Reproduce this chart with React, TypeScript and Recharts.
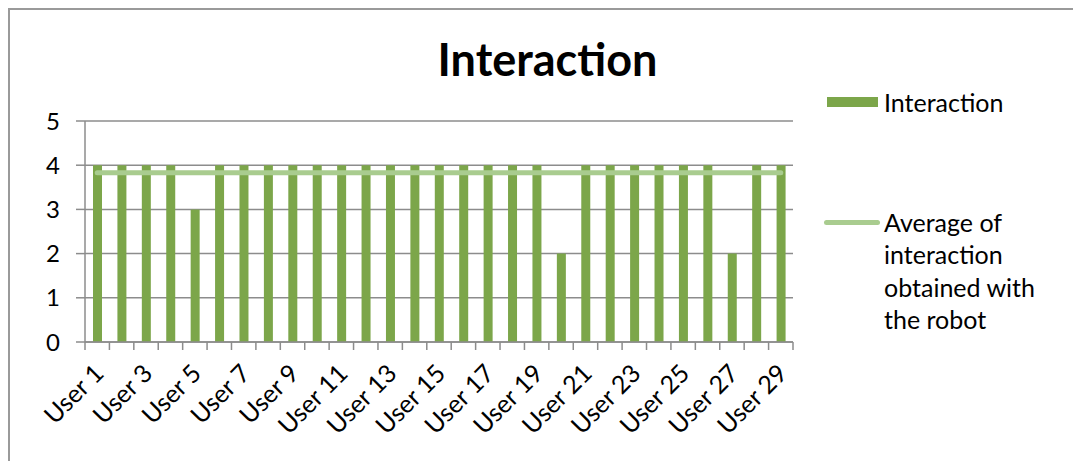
import React from "react";
import {
  ComposedChart,
  Bar,
  Line,
  XAxis,
  YAxis,
  CartesianGrid,
} from "recharts";

const users = [
  "User 1", "User 2", "User 3", "User 4", "User 5", "User 6", "User 7", "User 8",
  "User 9", "User 10", "User 11", "User 12", "User 13", "User 14", "User 15",
  "User 16", "User 17", "User 18", "User 19", "User 20", "User 21", "User 22",
  "User 23", "User 24", "User 25", "User 26", "User 27", "User 28", "User 29",
];

const interaction = [
  4, 4, 4, 4, 3, 4, 4, 4, 4, 4, 4, 4, 4, 4, 4,
  4, 4, 4, 4, 2, 4, 4, 4, 4, 4, 4, 2, 4, 4,
];

const average = [
  3.83, 3.83, 3.83, 3.83, 3.83, 3.83, 3.83, 3.83, 3.83, 3.83, 3.83, 3.83, 3.83, 3.83, 3.83,
  3.83, 3.83, 3.83, 3.83, 3.83, 3.83, 3.83, 3.83, 3.83, 3.83, 3.83, 3.83, 3.83, 3.83,
];

const yTicks = [0, 1, 2, 3, 4, 5];

const data = users.map((user, i) => ({
  user,
  interaction: interaction[i],
  average: average[i],
}));

const W = 1073;
const H = 461;
const PLOT_LEFT = 85;
const PLOT_RIGHT = 793;
const PLOT_TOP = 121;
const PLOT_BOTTOM = 342;
const BAND = (PLOT_RIGHT - PLOT_LEFT) / users.length;

const BAR = "#7CA64A";
const AVG = "#A9CC8F";
const AXIS = "#8C8C8C";
const FONT = "Lato, 'Open Sans', sans-serif";

const UserTick = (props: any) => {
  const { x, y, index, payload } = props;
  const left = x - BAND / 2;
  const ax = x + 8;
  const ay = y + 33;
  return (
    <g>
      <line x1={left} y1={y} x2={left} y2={y + 8} stroke={AXIS} strokeWidth={1.5} />
      {index === users.length - 1 && (
        <line x1={x + BAND / 2} y1={y} x2={x + BAND / 2} y2={y + 8} stroke={AXIS} strokeWidth={1.5} />
      )}
      {index % 2 === 0 && (
        <text
          x={ax}
          y={ay}
          transform={`rotate(-45, ${ax}, ${ay})`}
          textAnchor="end"
          fill="#000"
          fontSize={25}
          fontFamily={FONT}
        >
          {payload.value}
        </text>
      )}
    </g>
  );
};

const LegendBox = () => (
  <div
    style={{
      position: "absolute",
      left: 827,
      top: 86,
      width: 240,
      fontFamily: FONT,
      fontSize: 25,
      color: "#000",
      lineHeight: "32.5px",
    }}
  >
    <div style={{ display: "flex", alignItems: "center" }}>
      <span style={{ width: 51, height: 10, background: BAR, marginRight: 6, display: "inline-block" }} />
      <span>Interaction</span>
    </div>
    <div style={{ display: "flex", alignItems: "flex-start", marginTop: 87 }}>
      <span
        style={{
          width: 56,
          height: 5,
          borderRadius: 3,
          background: AVG,
          marginLeft: -3,
          marginRight: 4,
          marginTop: 14,
          display: "inline-block",
        }}
      />
      <span>
        Average of
        <br />
        interaction
        <br />
        obtained with
        <br />
        the robot
      </span>
    </div>
  </div>
);

export default function App() {
  return (
    <div
      style={{
        position: "absolute",
        left: 0,
        top: 0,
        width: W,
        height: H,
        background: "#fff",
        overflow: "hidden",
      }}
    >
      <div
        style={{
          position: "absolute",
          left: 8,
          top: 8,
          width: W,
          height: H,
          borderLeft: "2px solid #9a9a9a",
          borderTop: "2px solid #9a9a9a",
        }}
      />
      <div
        style={{
          position: "absolute",
          left: 0,
          width: 1095,
          top: 32,
          textAlign: "center",
          fontFamily: FONT,
          fontWeight: 700,
          fontSize: 45,
          color: "#000",
        }}
      >
        Interaction
      </div>
      <ComposedChart
        width={W}
        height={H}
        data={data}
        margin={{ top: PLOT_TOP, right: W - PLOT_RIGHT, bottom: 0, left: 0 }}
        style={{ position: "absolute", left: 0, top: 0 }}
      >
        <CartesianGrid vertical={false} stroke={AXIS} strokeWidth={1.5} />
        <XAxis
          dataKey="user"
          interval={0}
          height={H - PLOT_BOTTOM}
          tickSize={0}
          tickMargin={0}
          tickLine={false}
          axisLine={{ stroke: AXIS, strokeWidth: 1.5 }}
          tick={<UserTick />}
        />
        <YAxis
          width={PLOT_LEFT}
          domain={[0, 5]}
          ticks={yTicks}
          tickSize={9}
          tickMargin={16}
          tickLine={{ stroke: AXIS, strokeWidth: 1.5 }}
          axisLine={{ stroke: AXIS, strokeWidth: 1.5 }}
          tick={{ fill: "#000", fontSize: 24, fontFamily: FONT }}
        />
        <Bar dataKey="interaction" fill={BAR} barSize={9} isAnimationActive={false} />
        <Line
          dataKey="average"
          stroke={AVG}
          strokeWidth={5}
          strokeLinecap="round"
          dot={false}
          activeDot={false}
          type="linear"
          isAnimationActive={false}
        />
      </ComposedChart>
      <LegendBox />
    </div>
  );
}
